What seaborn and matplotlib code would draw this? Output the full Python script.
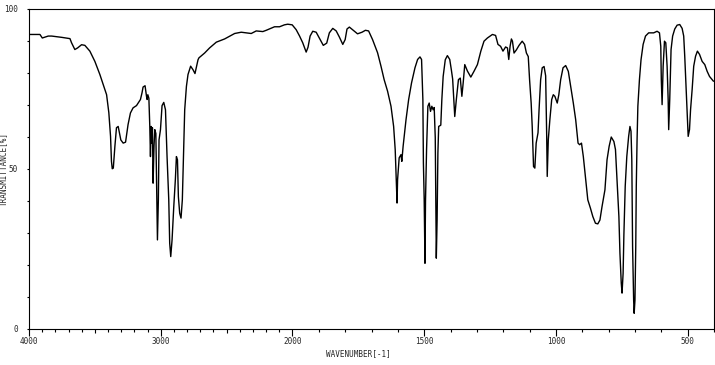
import numpy as np
import pandas as pd
import matplotlib
matplotlib.use("Agg")
import matplotlib.pyplot as plt
import seaborn as sns

# ---- data ----
wavenumber = [
    4000, 3992, 3917, 3899, 3854, 3828, 3752, 3689, 3677, 3652, 3631, 3601, 3576, 3538, 3500,
    3462, 3432, 3411, 3394, 3381, 3374, 3368, 3360, 3348, 3336, 3323, 3303, 3285, 3267, 3248,
    3230, 3210, 3184, 3154, 3142, 3134, 3119, 3108, 3103, 3098, 3090, 3083, 3078, 3073, 3068,
    3063, 3058, 3051, 3045, 3037, 3030, 3025, 3018, 3013, 3002, 2990, 2977, 2964, 2952, 2939,
    2932, 2924, 2914, 2901, 2889, 2881, 2873, 2866, 2856, 2846, 2836, 2826, 2818, 2805, 2793,
    2773, 2755, 2740, 2725, 2717, 2710, 2667, 2629, 2578, 2515, 2439, 2389, 2313, 2275, 2225,
    2199, 2136, 2098, 2061, 2036, 2002, 1986, 1973, 1961, 1948, 1941, 1933, 1923, 1910, 1895,
    1883, 1870, 1860, 1847, 1834, 1822, 1809, 1800, 1793, 1784, 1772, 1753, 1736, 1723, 1711,
    1696, 1677, 1664, 1652, 1639, 1626, 1616, 1610, 1607, 1603, 1601, 1595, 1588, 1585, 1580,
    1569, 1559, 1548, 1535, 1525, 1516, 1510, 1505, 1503, 1500, 1497, 1495, 1491, 1486, 1481,
    1476, 1471, 1466, 1462, 1458, 1456, 1454, 1451, 1448, 1445, 1437, 1433, 1428, 1420, 1412,
    1403, 1397, 1392, 1388, 1384, 1378, 1370, 1363, 1357, 1352, 1346, 1336, 1323, 1311, 1298,
    1285, 1273, 1260, 1241, 1229, 1220, 1210, 1201, 1191, 1184, 1179, 1174, 1169, 1165, 1159,
    1150, 1140, 1128, 1119, 1112, 1105, 1100, 1094, 1090, 1085, 1080, 1075, 1068, 1064, 1058,
    1052, 1045, 1039, 1035, 1033, 1029, 1023, 1016, 1010, 1004, 995, 989, 982, 973, 963,
    953, 944, 934, 925, 916, 910, 903, 896, 887, 879, 869, 860, 850, 841, 833,
    825, 814, 806, 798, 790, 780, 774, 768, 761, 757, 752, 749, 745, 742, 737,
    731, 724, 719, 715, 712, 709, 705, 703, 700, 697, 695, 692, 689, 683, 677,
    669, 660, 648, 629, 616, 607, 602, 600, 597, 593, 588, 583, 578, 574, 572,
    568, 563, 557, 549, 540, 530, 521, 515, 511, 507, 502, 498, 493, 489, 483,
    477, 470, 463, 455, 445, 435, 426, 417, 407, 402,
]
transmittance = [
    91.9, 91.9, 91.9, 90.8, 91.4, 91.4, 91.0, 90.6, 89.3, 87.2, 87.7, 88.7, 88.5, 86.7, 83.5,
    79.4, 75.7, 73.1, 67.5, 60.1, 52.3, 50.0, 50.2, 57.0, 62.8, 63.2, 59.0, 58.0, 58.3, 63.8,
    67.4, 69.0, 69.7, 71.6, 73.7, 75.5, 75.9, 72.6, 71.6, 73.1, 72.0, 63.2, 53.8, 63.2, 58.0,
    62.8, 45.5, 57.0, 62.2, 61.0, 42.5, 27.8, 40.3, 59.0, 62.2, 69.7, 70.7, 68.4, 53.8, 40.3,
    26.8, 22.6, 27.8, 38.2, 46.6, 53.8, 52.8, 41.3, 36.1, 34.6, 40.3, 55.9, 68.4, 75.7, 79.4,
    82.0, 80.9, 79.7, 82.5, 84.0, 84.6, 86.1, 87.7, 89.5, 90.5, 92.2, 92.6, 92.2, 93.0, 92.8,
    93.2, 94.3, 94.3, 94.9, 95.1, 94.9, 93.4, 91.4, 89.3, 86.4, 87.9, 91.4, 92.9, 92.6, 90.3,
    88.5, 89.2, 92.4, 93.8, 93.0, 91.1, 88.8, 90.3, 93.6, 94.2, 93.4, 92.1, 92.6, 93.2, 93.0,
    90.3, 86.2, 82.0, 77.8, 74.2, 69.5, 63.2, 55.9, 48.7, 39.3, 46.6, 53.4, 54.4, 52.3, 57.0,
    65.3, 71.6, 76.8, 81.5, 84.1, 84.9, 84.1, 71.6, 51.8, 40.3, 20.5, 40.0, 56.0, 69.5, 70.5,
    67.9, 69.5, 68.4, 69.1, 59.7, 41.3, 22.1, 34.0, 54.9, 63.2, 63.6, 71.6, 78.8, 84.0, 85.3,
    84.1, 80.9, 78.0, 72.0, 66.3, 71.6, 77.8, 78.3, 72.6, 76.8, 82.5, 80.5, 78.6, 80.4, 82.5,
    86.7, 89.8, 90.8, 91.9, 91.6, 88.8, 88.2, 86.7, 88.0, 87.7, 84.1, 88.2, 90.5, 89.8, 86.1,
    87.1, 88.5, 89.8, 88.8, 86.1, 85.0, 77.8, 70.5, 63.2, 50.7, 50.2, 58.0, 61.2, 68.4, 77.8,
    81.5, 81.9, 79.0, 60.1, 47.6, 59.0, 65.3, 71.6, 73.1, 72.6, 70.5, 73.1, 77.8, 81.5, 82.2,
    80.4, 75.7, 70.5, 65.3, 58.0, 57.5, 58.0, 53.8, 46.6, 40.3, 37.7, 35.1, 33.0, 32.8, 34.0,
    38.2, 43.4, 52.8, 57.0, 59.9, 58.5, 56.0, 46.6, 35.1, 23.6, 14.3, 11.2, 17.4, 29.5, 44.5,
    53.8, 60.1, 63.2, 61.7, 52.8, 25.7, 9.0, 4.9, 9.0, 25.7, 44.5, 59.0, 69.5, 77.8, 84.0,
    88.8, 91.4, 92.4, 92.4, 92.9, 92.4, 88.2, 77.8, 70.0, 82.0, 89.8, 89.3, 82.0, 71.6, 62.2,
    71.6, 87.2, 91.4, 93.6, 94.8, 95.0, 93.8, 91.4, 85.0, 77.2, 67.4, 60.1, 62.2, 68.4, 74.7,
    82.0, 85.1, 86.7, 85.7, 83.5, 82.5, 80.4, 78.8, 77.8, 77.3,
]
x_major_ticks = [4000, 3500, 3000, 2500, 2000, 1500, 1000, 500]
x_major_labels = ["4000", "", "3000", "", "2000", "1500", "1000", "500"]
y_major_ticks = [0, 50, 100]
y_major_labels = ["0", "50", "100"]
x_label = "WAVENUMBER[-1]"
y_label = "TRANSMITTANCE[%]"

df = pd.DataFrame({"wavenumber": wavenumber, "transmittance": transmittance})

sns.set_theme(style="white")
plt.rcParams["font.family"] = ["DejaVu Sans Mono", "DejaVu Sans"]

fig = plt.figure(figsize=(7.15, 3.65), dpi=100)
ax = fig.add_axes([29 / 715, 36 / 365, 685 / 715, 320.5 / 365])

sns.lineplot(data=df, x="wavenumber", y="transmittance", sort=False,
             estimator=None, color="black", linewidth=1.0, ax=ax)


def fwd(x):
    x = np.asarray(x, dtype=float)
    return np.where(x >= 2000, (x - 2000) / 1000.0, (x - 2000) / 500.0)


def inv(u):
    u = np.asarray(u, dtype=float)
    return np.where(u >= 0, 2000 + 1000.0 * u, 2000 + 500.0 * u)


ax.set_xscale("function", functions=(fwd, inv))
ax.set_xlim(4000, 400)
ax.set_ylim(0, 100)

ax.set_xticks(x_major_ticks)
ax.set_xticklabels(x_major_labels)
ax.set_xticks(np.arange(400, 4001, 100), minor=True)
ax.set_yticks(y_major_ticks)
ax.set_yticklabels(y_major_labels)
ax.set_yticks(np.arange(10, 100, 10), minor=True)

ax.tick_params(axis="x", which="major", direction="out", length=5, width=0.8,
               color="black", labelsize=5.5, pad=0.5, bottom=True, top=False)
ax.tick_params(axis="x", which="minor", direction="out", length=2, width=0.8,
               color="black", bottom=True, top=False)
ax.tick_params(axis="y", which="major", direction="out", length=1.6, width=0.8,
               color="black", labelsize=5.5, pad=6.5, left=True, right=False)
ax.tick_params(axis="y", which="minor", direction="out", length=1.6, width=0.8,
               color="black", left=True, right=False)
for tick, lab in zip(ax.xaxis.get_major_ticks(), x_major_labels):
    tick.tick1line.set_markersize(5 if lab else 3)

for sp in ax.spines.values():
    sp.set_visible(True)
    sp.set_color("black")
    sp.set_linewidth(0.8)

ax.set_xlabel(x_label, fontsize=5.5)
ax.set_ylabel(y_label, fontsize=5.5)
ax.xaxis.set_label_coords(329 / 685, -20 / 320)
ax.yaxis.set_label_coords(-20.5 / 685, 0.5)
ax.grid(False)
ax.set_facecolor("white")
fig.patch.set_facecolor("white")

fig.savefig("out.png", dpi=100, facecolor="white")
